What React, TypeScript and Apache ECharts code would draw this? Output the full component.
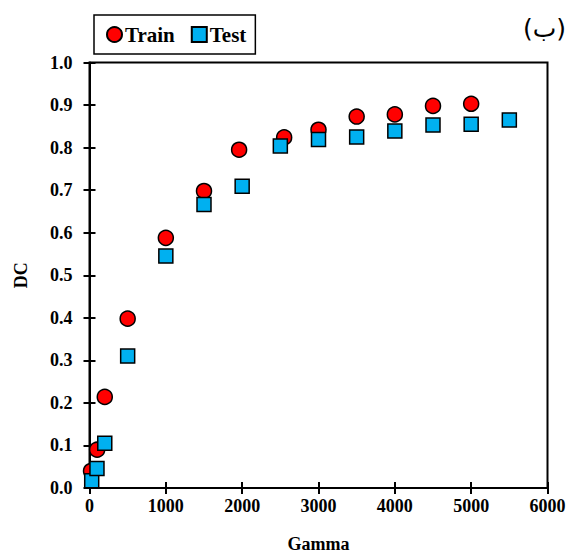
import React, { useEffect, useRef } from "react";
import * as echarts from "echarts";

const trainGamma = [20, 100, 200, 500, 1000, 1500, 1960, 2550, 3000, 3500, 4000, 4500, 5000];
const trainDC = [0.04, 0.09, 0.214, 0.398, 0.588, 0.698, 0.795, 0.824, 0.842, 0.873, 0.878, 0.898, 0.903];
const testGamma = [29, 98, 200, 500, 1000, 1500, 2000, 2500, 3000, 3500, 4000, 4500, 5000, 5500];
const testDC = [0.017, 0.046, 0.105, 0.31, 0.545, 0.666, 0.709, 0.804, 0.819, 0.825, 0.839, 0.853, 0.855, 0.865];

const FONT = "'Liberation Serif', 'Times New Roman', serif";

export default function App() {
  const ref = useRef<HTMLDivElement>(null);
  useEffect(() => {
    const chart = echarts.init(ref.current!, null, { renderer: "svg" });
    const axisLabel = { fontFamily: FONT, fontWeight: "bold", fontSize: 18, color: "#000" };
    chart.setOption({
      animation: false,
      backgroundColor: "#fff",
      grid: {
        left: 89.5, right: 23.5, top: 62.5, bottom: 66,
        outerBoundsMode: "none", containLabel: false,
        show: true, borderColor: "#000", borderWidth: 2, backgroundColor: "transparent",
      },
      legend: {
        left: 94, top: 15,
        padding: [9, 9, 9, 12],
        itemGap: 16,
        itemWidth: 15, itemHeight: 15,
        borderColor: "#000", borderWidth: 1.5,
        textStyle: { fontFamily: FONT, fontWeight: "bold", fontSize: 21, color: "#000", padding: [0, 0, 0, -2] },
        data: ["Train", "Test"],
      },
      xAxis: [
        {
          type: "value", min: 0, max: 6000, interval: 1000,
          name: "Gamma", nameLocation: "middle", nameGap: 47,
          nameTextStyle: { ...axisLabel, fontSize: 18 },
          axisLine: { show: true, lineStyle: { color: "#000", width: 2 } },
          axisTick: { show: true, length: 6, lineStyle: { color: "#000", width: 2 } },
          axisLabel: { ...axisLabel, margin: 9, formatter: (v: number) => String(v) },
          splitLine: { show: false },
        },
        {
          type: "value", min: 0, max: 6000, interval: 1000, position: "bottom", offset: 0,
          axisLine: { show: false },
          axisTick: { show: true, inside: true, length: 6, lineStyle: { color: "#000", width: 2 } },
          axisLabel: { show: false },
          splitLine: { show: false },
        },
      ],
      yAxis: [
        {
          type: "value", min: 0, max: 1, interval: 0.1,
          name: "DC", nameLocation: "middle", nameGap: 60,
          nameTextStyle: { ...axisLabel, fontSize: 18 },
          axisLine: { show: true, lineStyle: { color: "#000", width: 2 } },
          axisTick: { show: true, length: 6, lineStyle: { color: "#000", width: 2 } },
          axisLabel: { ...axisLabel, margin: 17, formatter: (v: number) => v.toFixed(1) },
          splitLine: { show: false },
        },
        {
          type: "value", min: 0, max: 1, interval: 0.1, position: "left", offset: 0,
          axisLine: { show: false },
          axisTick: { show: true, inside: true, length: 6, lineStyle: { color: "#000", width: 2 } },
          axisLabel: { show: false },
          splitLine: { show: false },
        },
      ],
      graphic: [
        {
          type: "text", right: 5, top: 16,
          style: { text: "(ب)", font: "25px 'DejaVu Sans', sans-serif", fill: "#000" },
        },
      ],
      series: [
        {
          name: "Train", type: "scatter", symbol: "circle", symbolSize: 15,
          data: trainGamma.map((g, i) => [g, trainDC[i]]),
          itemStyle: { color: "#ff0000", borderColor: "#000", borderWidth: 1.5, opacity: 1 },
        },
        {
          name: "Test", type: "scatter", symbol: "rect", symbolSize: 14,
          data: testGamma.map((g, i) => [g, testDC[i]]),
          itemStyle: { color: "#00b0f0", borderColor: "#000", borderWidth: 1.5, opacity: 1 },
        },
      ],
    });
    return () => chart.dispose();
  }, []);
  return <div ref={ref} style={{ position: "fixed", left: 0, top: 0, width: 571, height: 554 }} />;
}
